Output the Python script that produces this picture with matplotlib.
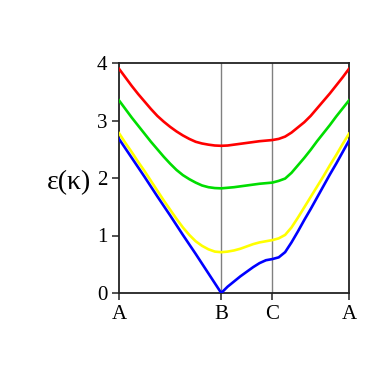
import matplotlib.pyplot as plt
import numpy as np

# path coordinates along A-B-C-A
k = [0, 0.125, 0.25, 0.375, 0.5, 0.625, 0.75, 0.875, 1.0, 1.125, 1.25, 1.375,
     1.5, 1.625, 1.75, 1.875, 2.0, 2.125, 2.25, 2.375, 2.5, 2.625, 2.75, 2.875,
     3.0, 3.125, 3.25, 3.375, 3.5, 3.625, 3.75, 3.875, 4.0, 4.125, 4.25, 4.375, 4.5]
tick_pos = [0, 2, 3, 4.5]
tick_labels = ['A', 'B', 'C', 'A']

# band energies
band_red = [3.90, 3.75, 3.60, 3.46, 3.33, 3.20, 3.08, 2.98, 2.89, 2.81, 2.74, 2.68,
            2.63, 2.60, 2.58, 2.565, 2.56, 2.565, 2.58, 2.595, 2.61, 2.625, 2.64, 2.65,
            2.66, 2.68, 2.72, 2.79, 2.88, 2.97, 3.08, 3.21, 3.34, 3.47, 3.61, 3.75, 3.90]
band_green = [3.35, 3.20, 3.05, 2.91, 2.77, 2.63, 2.50, 2.37, 2.25, 2.14, 2.05, 1.98,
              1.92, 1.87, 1.84, 1.825, 1.82, 1.83, 1.84, 1.855, 1.87, 1.885, 1.90, 1.91,
              1.92, 1.95, 1.99, 2.09, 2.22, 2.35, 2.49, 2.64, 2.78, 2.92, 3.07, 3.21, 3.35]
band_yellow = [2.78, 2.61, 2.45, 2.28, 2.12, 1.95, 1.78, 1.61, 1.45, 1.29, 1.14, 1.01,
               0.90, 0.82, 0.76, 0.72, 0.71, 0.72, 0.74, 0.77, 0.81, 0.85, 0.88, 0.90,
               0.92, 0.95, 1.01, 1.14, 1.31, 1.49, 1.67, 1.85, 2.03, 2.22, 2.40, 2.59, 2.77]
band_blue = [2.68, 2.515, 2.35, 2.185, 2.02, 1.85, 1.68, 1.515, 1.35, 1.18, 1.01, 0.845,
             0.68, 0.51, 0.34, 0.17, 0.00, 0.11, 0.20, 0.29, 0.37, 0.45, 0.52, 0.57,
             0.59, 0.62, 0.71, 0.88, 1.07, 1.27, 1.46, 1.66, 1.86, 2.06, 2.25, 2.45, 2.65]

plt.rcParams['font.family'] = 'Liberation Serif'

fig = plt.figure(figsize=(3.82, 3.82), dpi=100)
ax = fig.add_axes([119/382, 89/382, 230/382, 230/382])

# high symmetry points B and C
for xv in tick_pos[1:3]:
    ax.axvline(xv, color='gray', lw=1.0, zorder=1)

ax.plot(k, band_red, color='#ff0000', lw=1.9, zorder=3)
ax.plot(k, band_green, color='#00dd00', lw=1.9, zorder=3)
ax.plot(k, band_yellow, color='#ffff00', lw=1.9, zorder=3)
ax.plot(k, band_blue, color='#0000ff', lw=1.9, zorder=3)

ax.set_xlim(0, 4.5)
ax.set_ylim(0, 4)
ax.set_xticks(tick_pos)
ax.set_xticklabels(tick_labels)
ax.set_yticks([0, 1, 2, 3, 4])
ax.tick_params(direction='out', length=5, width=1.2, labelsize=15, color='#333333')
for s in ax.spines.values():
    s.set_linewidth(1.3)
    s.set_color('#222222')

ax.set_ylabel('ε(κ)', fontsize=20, rotation=0, ha='right', va='center')
ax.yaxis.set_label_coords(-0.12, 0.48)

plt.savefig('out.png', dpi=100)
